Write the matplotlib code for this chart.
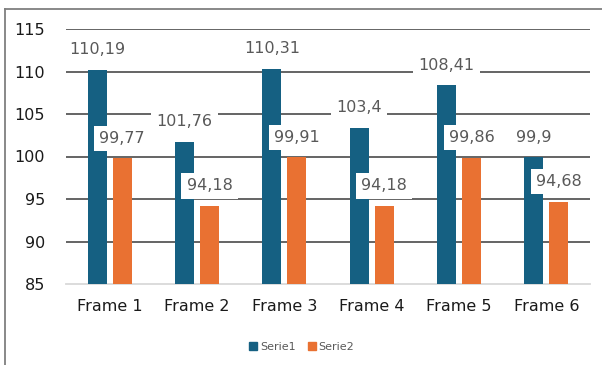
import matplotlib
matplotlib.use("Agg")
import matplotlib.pyplot as plt
from matplotlib.lines import Line2D
import numpy as np

categories = ["Frame 1", "Frame 2", "Frame 3", "Frame 4", "Frame 5", "Frame 6"]
serie1 = [110.19, 101.76, 110.31, 103.4, 108.41, 99.9]
serie2 = [99.77, 94.18, 99.91, 94.18, 99.86, 94.68]
series_names = ["Serie1", "Serie2"]
colors = ["#156082", "#E97132"]
yticks = [85, 90, 95, 100, 105, 110, 115]


def fmt(v):
    s = f"{v:.2f}".rstrip("0").rstrip(".")
    return s.replace(".", ",")


plt.rcParams["font.family"] = ["DejaVu Sans"]

fig = plt.figure(figsize=(6.02, 3.65), dpi=100)
ax = fig.add_axes([66 / 602, 1 - 284 / 365, 524 / 602, 255 / 365])

x = np.arange(len(categories))
offset = 0.143
width = 0.218
ax.bar(x - offset, serie1, width, bottom=0, color=colors[0], zorder=2)
ax.bar(x + offset, serie2, width, bottom=0, color=colors[1], zorder=2)

ax.set_ylim(85, 115)
ax.set_xlim(-0.5, len(categories) - 0.5)
ax.set_yticks(yticks)
ax.set_xticks(x)
ax.set_xticklabels(categories)

for y in yticks[1:]:
    ax.axhline(y, color="#3a3a3a", lw=1.1, zorder=1)
ax.axhline(85, color="#d9d9d9", lw=1.3, zorder=1, clip_on=False)

for s in ax.spines.values():
    s.set_visible(False)
ax.tick_params(axis="both", length=0, labelsize=11.5, colors="#1a1a1a")
ax.tick_params(axis="y", pad=15)
ax.tick_params(axis="x", pad=11)

# value labels with white boxes above each bar
for vals, dx in ((serie1, -offset), (serie2, offset)):
    for xi, v in zip(x, vals):
        ax.annotate(fmt(v), xy=(xi + dx, v), xytext=(0, 14.4),
                    textcoords="offset points", ha="center", va="center",
                    fontsize=11.5, color="#595959", zorder=5,
                    bbox=dict(boxstyle="square,pad=0.32", fc="white", ec="none"))

handles = [Line2D([], [], marker="s", ls="none", color=c, markersize=5.5)
           for c in colors]
fig.legend(handles, series_names, loc="center", bbox_to_anchor=(0.5, 1 - 347 / 365),
           ncol=2, frameon=False, fontsize=8, labelcolor="#595959",
           handletextpad=0.1, columnspacing=1.0, handlelength=1.0)

# outer frame lines (top and left)
fig.add_artist(Line2D([5 / 602, 1], [1 - 9 / 365, 1 - 9 / 365],
                      transform=fig.transFigure, color="#7f7f7f", lw=1.3))
fig.add_artist(Line2D([5 / 602, 5 / 602], [0, 1 - 9 / 365],
                      transform=fig.transFigure, color="#7f7f7f", lw=1.3))

fig.savefig("out.png", dpi=100)
